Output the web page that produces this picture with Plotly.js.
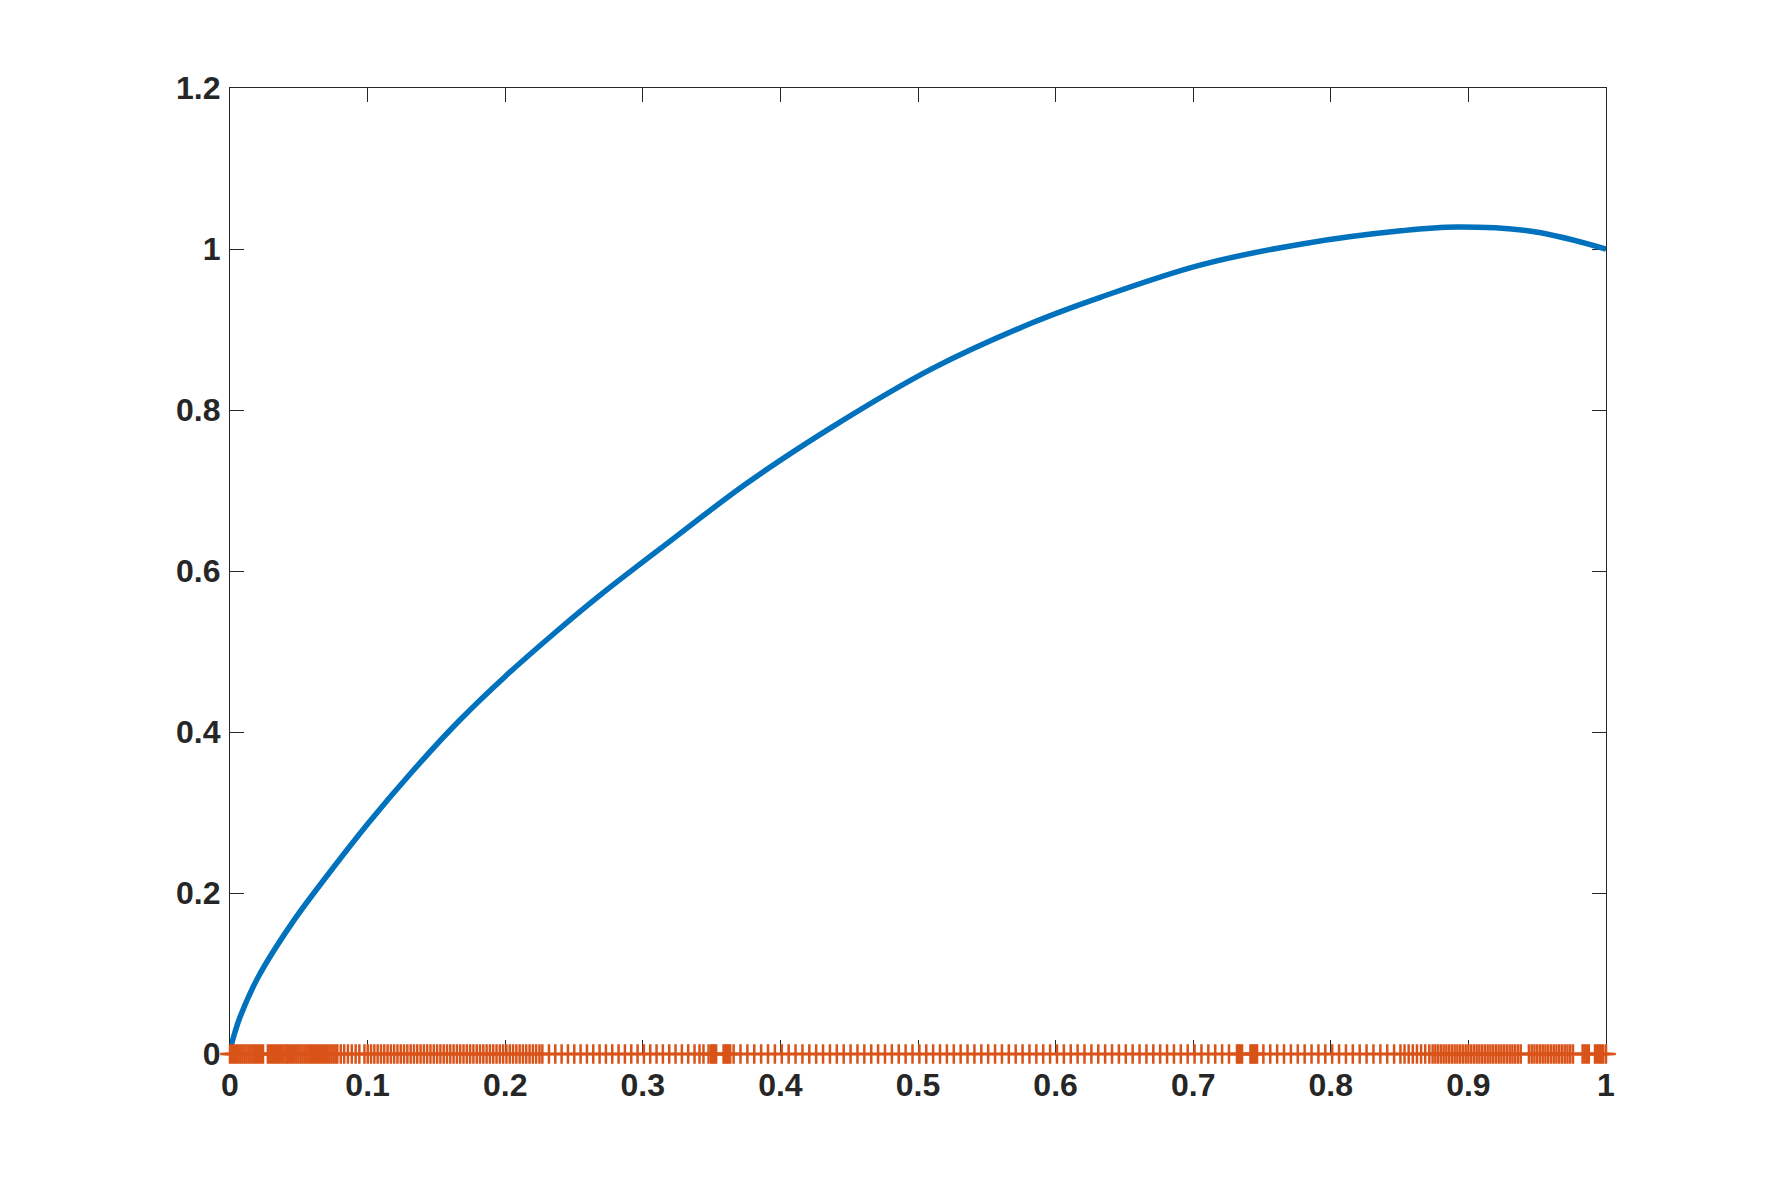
<!DOCTYPE html>
<html>
<head>
<meta charset="utf-8">
<script src="https://cdn.plot.ly/plotly-3.0.1.min.js"></script>
<style>
  html, body { margin: 0; padding: 0; background: #fff; }
  #chart-container { width: 1774px; height: 1184px; }
</style>
</head>
<body>
<div id="chart-container"></div>
<script>
// blue curve
const curveX = [0, 0.001, 0.0036, 0.0073, 0.0206, 0.0448, 0.069, 0.1006, 0.132, 0.166, 0.2, 0.2387, 0.269,
  0.3175, 0.3756, 0.4386, 0.511, 0.584, 0.6325, 0.705, 0.778, 0.851, 0.892, 0.948, 1];
const curveY = [0, 0.011, 0.027, 0.046, 0.096, 0.162, 0.218, 0.287, 0.35, 0.413, 0.469, 0.527, 0.57,
  0.634, 0.709, 0.78, 0.852, 0.909, 0.94, 0.98, 1.006, 1.0226, 1.0272, 1.0215, 1];

// sample points drawn as '+' along y = 0
const sampleX = [
  0, 0.0015, 0.003, 0.0045, 0.006, 0.0075, 0.009, 0.0105, 0.012, 0.0135, 0.015, 0.0165, 0.018, 0.0195, 0.021, 0.0225, 0.024,
  0.0275, 0.029, 0.0305, 0.032, 0.0335, 0.035, 0.0365, 0.038, 0.0395, 0.041, 0.042,
  0.0437, 0.0452, 0.0467, 0.0482, 0.0497, 0.0512, 0.0527, 0.0542, 0.0557, 0.0572, 0.0587, 0.0602, 0.0617, 0.0632,
  0.0647, 0.0662, 0.0677, 0.0692, 0.0707, 0.0722, 0.0737, 0.0752, 0.0767, 0.078,
  0.0805, 0.083, 0.0857, 0.0885, 0.0913, 0.094,
  0.0977, 0.1001, 0.1025, 0.1049, 0.1073, 0.1097, 0.1121, 0.1145, 0.1169, 0.1193,
  0.1217, 0.1241, 0.1265, 0.1289, 0.1313, 0.1337, 0.1361, 0.1385, 0.1409, 0.1433,
  0.1457, 0.1481, 0.1505, 0.1529, 0.1553, 0.1577, 0.1601, 0.1625, 0.1649, 0.1673,
  0.1697, 0.1721, 0.1745, 0.1769, 0.1793, 0.1817, 0.1841, 0.1865, 0.1889, 0.1913,
  0.1937, 0.1961, 0.1985, 0.2009, 0.2033, 0.2057, 0.2081, 0.2105, 0.2129, 0.2153,
  0.2177, 0.2201, 0.2225, 0.2249, 0.227,
  0.2318, 0.2364, 0.241, 0.2456, 0.2502, 0.2548, 0.2594, 0.264, 0.2686, 0.2732, 0.2778, 0.2824, 0.287, 0.2916,
  0.2962, 0.3008, 0.3054, 0.31, 0.3146, 0.3192, 0.3238, 0.3284, 0.333, 0.3376, 0.3412, 0.3441, 0.3478,
  0.3497, 0.3509, 0.3521, 0.3533,
  0.3587, 0.3599, 0.3611, 0.3623, 0.3635,
  0.366, 0.371, 0.376, 0.381, 0.386, 0.391, 0.396, 0.401, 0.406, 0.411, 0.416, 0.421, 0.426, 0.431, 0.436,
  0.441, 0.446, 0.451, 0.456, 0.461, 0.466, 0.471, 0.476, 0.481, 0.486, 0.491, 0.496, 0.501, 0.506, 0.511,
  0.516, 0.521, 0.526, 0.531, 0.536, 0.541, 0.546, 0.551, 0.556, 0.561, 0.566, 0.571, 0.576, 0.581, 0.586,
  0.591, 0.596, 0.601, 0.606, 0.611, 0.616, 0.621, 0.626, 0.631, 0.636, 0.641, 0.646, 0.651, 0.656, 0.661,
  0.666, 0.671, 0.676, 0.681, 0.686, 0.691, 0.696, 0.701, 0.706, 0.711, 0.716, 0.721, 0.726,
  0.7318, 0.733, 0.7342, 0.7355,
  0.7416, 0.7428, 0.744, 0.7452, 0.7464,
  0.751, 0.756, 0.761, 0.766, 0.771, 0.776, 0.781, 0.786, 0.791, 0.796, 0.801, 0.806, 0.811, 0.816, 0.821,
  0.826, 0.831, 0.836, 0.841, 0.846, 0.8506, 0.8536, 0.8566, 0.8596, 0.8626, 0.8656, 0.8686, 0.8716,
  0.874, 0.876, 0.878, 0.88, 0.882, 0.884, 0.886, 0.888, 0.89, 0.892, 0.894, 0.896, 0.898, 0.9, 0.902,
  0.904, 0.906, 0.908, 0.91, 0.912, 0.914, 0.916, 0.918, 0.92, 0.922, 0.924, 0.926, 0.928, 0.93, 0.932,
  0.934, 0.936, 0.938,
  0.944, 0.946, 0.948, 0.95, 0.952, 0.954, 0.956, 0.958, 0.96, 0.962, 0.964, 0.966, 0.968, 0.97, 0.972, 0.974, 0.976,
  0.983, 0.9845, 0.986, 0.9875,
  0.992, 0.9935, 0.995, 0.9965, 0.998, 1,
];
const sampleLevel = 0; // every sample sits on y = 0

const CURVE_COLOR = '#0072BD';
const SAMPLE_COLOR = '#D95319';
const AXIS_COLOR = '#262626';

const tickFont = { family: '"Liberation Sans", Arial, sans-serif', size: 32, color: AXIS_COLOR, weight: 'bold' };

const plotData = [
  {
    x: curveX,
    y: curveY,
    mode: 'lines',
    line: { color: CURVE_COLOR, width: 5.5, shape: 'spline', smoothing: 1 },
    cliponaxis: false,
    hoverinfo: 'skip',
    showlegend: false,
  },
  {
    x: sampleX,
    y: sampleX.map(() => sampleLevel),
    mode: 'markers',
    marker: {
      symbol: 'cross-thin-open',
      size: 14,
      color: SAMPLE_COLOR,
      line: { color: SAMPLE_COLOR, width: 2.5 },
    },
    cliponaxis: false,
    hoverinfo: 'skip',
    showlegend: false,
  },
];

const axisCommon = {
  showgrid: false,
  zeroline: false,
  showline: true,
  mirror: 'ticks',
  linecolor: AXIS_COLOR,
  linewidth: 1.2,
  ticks: 'inside',
  ticklen: 14,
  tickwidth: 1.2,
  tickcolor: AXIS_COLOR,
  tickfont: tickFont,
  fixedrange: true,
  layer: 'below traces',
};

const plotLayout = {
  width: 1774,
  height: 1184,
  margin: { l: 230, r: 168, t: 88, b: 130 },
  paper_bgcolor: '#ffffff',
  plot_bgcolor: '#ffffff',
  xaxis: Object.assign({}, axisCommon, {
    range: [0, 1],
    tick0: 0,
    dtick: 0.1,
    ticklabelstandoff: 2,
  }),
  yaxis: Object.assign({}, axisCommon, {
    range: [0, 1.2],
    tick0: 0,
    dtick: 0.2,
    ticklabelstandoff: 2,
  }),
};

const plotConfig = {
  displayModeBar: false,
  responsive: false,
};

Plotly.newPlot('chart-container', plotData, plotLayout, plotConfig);
</script>
</body>
</html>
